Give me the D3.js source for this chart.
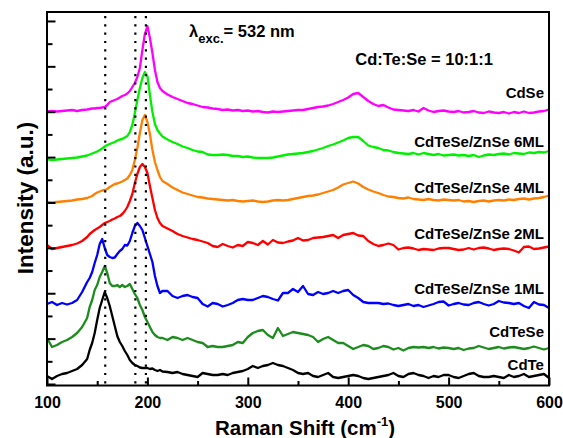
<!DOCTYPE html>
<html><head><meta charset="utf-8">
<script src="https://cdn.jsdelivr.net/npm/d3@7"></script>
<style>
body{margin:0;background:#fff}
text{font-family:"Liberation Sans",Arial,sans-serif;font-weight:bold;fill:#000}
</style>
</head><body>
<svg id="c" width="563" height="438"></svg>
<script>
// ---------- data (Raman shift in cm^-1, intensity in a.u., curves offset) ----------
const shift = d3.merge([d3.range(100, 141, 5), d3.range(142.5, 215.1, 2.5), d3.range(220, 601, 5)]);

const cdse = [
272.5,273,272.5,273,273.5,274,273,274,274.5,
275,275.5,275.5,276,276,276.5,277,279,282,283,284,285,286.5,288,289,290.5,293,297,301,307,316,334,350,358,346,331,314,302,296,293,
289.5,287,285,283,281,280,278.5,277,276.5,275.5,
275,274,274.5,273.5,274,273,273.5,272.5,273,272,
271.5,272.5,272,272.5,273,273.5,274,274,275,276,
277,277.5,278.5,280,282,284,286.5,290,291,287,
283,280,278,279,276.5,274.5,274,273.5,273,274,
272.5,276,273.5,272,273,273.5,272.5,272,273,271.5,
272,273,271.5,271,272.5,271.5,271,272,270.5,272,
271,272.5,271,271.5,272.5,273,274.5];

const zn6 = [
225,224,224.5,225,225.5,226,226.5,227.5,228.5,
229.5,230.5,231.5,232.5,234,235.5,237.5,239,240,241,242,243.5,244.5,245,246.5,248,252,259,271,284,296,306,312,308,289,272,260,254,250.5,247.5,
244.5,242,240,237.5,236,234,232.5,232,229.5,229,
229,229.5,229,228,228,227,227.5,226.5,226,226,
226,226.5,227.5,228.5,229.5,230,230.5,231,232,233,
234.5,236,238,239.5,241.5,243.5,246,247,247,243,
238.5,237,236,234,233.5,232,231,230.5,230,231,
229.5,231,230,229,230,228.5,229,229.5,228.5,229,
228,229,227,228.5,229.5,229,230,230.5,229.5,231,
230.5,230,231.5,231,232,231.5,233];

const zn4 = [
182,181.5,182,182.5,183,183.5,184.5,185,186,
187,188,190,191.5,192.5,193.5,194,195,197,198.5,200,200.5,201.5,202.5,204,205.5,209,214,224,236,251,264,269,262,250,234,222,214,207,203,
200,196.5,194,191.5,190,188.5,187,186.5,185.5,185,
184.5,184,183.5,184,183,182.5,183,183.5,182.5,182,
182.5,183.5,184,183.5,184,185,186,187,188,188.5,
189.5,191,192.5,194,196.5,199.5,201,202.5,200.5,197,
194.5,192.5,191,189,187.5,187,186,185.5,186.5,185,
184.5,184,185,184,183.5,184.5,184,183.5,184,182.5,
183,182,183,183.5,182.5,183.5,184,183.5,184.5,184,
185,185.5,184.5,185.5,186,187,188.5];

const zn2 = [
139,135,136,137,138,139,140.5,143,147,
150,152,154,155.5,157,159,161,162,163,164.5,165.5,167,168,170,173,177,183,190,201,210,217,220,217,211,198,186,174,166,161,158,
155.5,153,150,148,146.5,145,144,142.5,141,138,
137,140,138,136.5,139,138,142,141,139,143,
139.5,144,141.5,141,142.5,143.5,146,143.5,144,146,
146.5,147,148,149,146,149,150,151,148.5,148,
143,140,138,139,140.5,139,134.5,136,136.5,135.5,
134,135,134.5,134,135.5,136,136,135,134,134.5,
136,134.5,136,136.5,135.5,134,135,135.5,135,133.5,
131.5,137,137.5,135,135.5,136.5,137.5];

const zn1 = [
80,82,79,81,79.5,81,84,92,102,
106,112,121,129,140,145,136,129,127,126,126.5,130,133,135,139,138.5,143,151,158,161,158,154,146,138,130,122,108,98,91,93,
93,88,86,88,89,87,86,80,77.5,81,
80,77.5,79,81,84,85,84,84,86,88,
87,85,83.5,91,91,95,92,98,90,89,
92,90,91,93,91,93,94,89,86,82,
81,81,81,80,80.5,79,78,79,80,78,
79,77,78.5,80,82,82.5,78.5,80,81,79.5,
79,81,82,80,78.5,80,83,81.5,81,80,
81,78,76,82,79.5,79,76];

const cdtese = [
46,37,39,42,44,47,51,57,66,
77,84,94,99,107,112,118,111,101,98,98,99,97,99,97,98,100,95,90,86,79,74,67,62,57,52,49,47,46,46,
44,47,46,44,46,44,42,41,37,38,
37,37,38,39,42,41,47,51,53,54,
49,46,56,48,50,52,51,50,49,47,
42,45,47,44,41,41,38,35,37,39,
38,35,36,38,37,34.5,36,33.5,36,37,
36.5,37,36,37,35.5,36.5,36,35,36,34,
35.5,36,38,36.5,35,36,37,35.5,36.5,37,
36,35,36,37.5,36,34.5,36];

const cdte = [
8,5,8,10,11,13,15,19,25,
34,41,51,64,76,84,92,86,78,68,58,48,42,38,33,29,24,21,19,18,16.5,16,16,16,15,15.5,14,13,14,12.5,
12,11,12,10,9,8,7,11,10,9,
9,10,9,11,12,13,15,18,16,18,
19,21,19,18,16,14,11,10,11,8,
7,9,11,7,6,7,8,9,8,6,
5,6,7,8,9,11,8,7,10,11,
9,8,6,8,7,9,9,7,6,8,
10,11,8,7,7,8,7,6,9,7,
8,10,7,8,9,10,6];

const seriesNames = ["CdTe", "CdTeSe", "CdTeSe/ZnSe 1ML", "CdTeSe/ZnSe 2ML", "CdTeSe/ZnSe 4ML", "CdTeSe/ZnSe 6ML", "CdSe"];
const seriesValues = [cdte, cdtese, zn1, zn2, zn4, zn6, cdse];
const xTicks = [100, 200, 300, 400, 500, 600];
const xMinorTicks = [150, 250, 350, 450, 550];
const refLines = [158, 188, 198.5];

// ---------- styling / layout ----------
const colors = ["#000000", "#1c8c1c", "#0000ff", "#ff0000", "#ff8000", "#00f000", "#ff00ff"];
const labelY = [14, 47, 90, 145, 191, 237, 286];   // label baselines (a.u.)
const labelX = 595;

const svg = d3.select("#c");
const x = d3.scaleLinear().domain([100, 600]).range([47, 549]);
const y = d3.scaleLinear().domain([0, 372]).range([384, 12]);
const bottom = 385.5;
const yStep = 22.69;
const yTicks = d3.range(17).map(k => k * yStep);

// curves
const line = d3.line().x((d, i) => x(shift[i])).y(d => y(d));
svg.append("g").selectAll("path").data(seriesValues).join("path")
  .attr("d", line).attr("fill", "none")
  .attr("stroke", (d, i) => colors[i]).attr("stroke-width", 2.3)
  .attr("stroke-linejoin", "round");

// dotted reference lines
svg.append("g").selectAll("line").data(refLines).join("line")
  .attr("x1", d => x(d)).attr("x2", d => x(d))
  .attr("y1", y(372) + 4).attr("y2", bottom - 2)
  .attr("stroke", "#000").attr("stroke-width", 2.2)
  .attr("stroke-dasharray", "2.2,6.1");

// frame
svg.append("rect").attr("x", x(100)).attr("y", y(372))
  .attr("width", x(600) - x(100)).attr("height", bottom - y(372))
  .attr("fill", "none").attr("stroke", "#000").attr("stroke-width", 2);

// x axis
const gx = svg.append("g").attr("transform", `translate(0,${bottom})`);
gx.call(d3.axisBottom(x).tickValues(xTicks).tickSize(-8).tickPadding(11).tickFormat(d3.format("d")));
gx.append("g").call(d3.axisBottom(x).tickValues(xMinorTicks).tickSize(-4.5).tickFormat(""));
gx.selectAll(".domain").remove();
gx.selectAll("line").attr("stroke", "#000").attr("stroke-width", 2);
gx.selectAll("text").attr("font-size", 16).attr("font-family", '"Liberation Sans",Arial,sans-serif').attr("font-weight", "bold").attr("fill", "#000");

// y axis (no labels)
const gy = svg.append("g").attr("transform", `translate(${x(100)},0)`);
gy.call(d3.axisLeft(y).tickValues(yTicks).tickSize(0).tickFormat(""));
gy.selectAll(".domain").remove();
gy.selectAll(".tick line").attr("x2", (d, i) => i % 2 === 0 ? 8.5 : 5.5)
  .attr("stroke", "#000").attr("stroke-width", 2);

// axis titles
const xt = svg.append("text").attr("x", 305).attr("y", 435).attr("text-anchor", "middle").attr("font-size", 20.5);
xt.append("tspan").text("Raman Shift (cm");
xt.append("tspan").attr("font-size", 13).attr("dy", -9).text("-1");
xt.append("tspan").attr("dy", 9).text(")");

svg.append("text").attr("transform", "translate(33,198) rotate(-90)")
  .attr("text-anchor", "middle").attr("font-size", 22.5).text("Intensity (a.u.)");

// annotations
const lam = svg.append("text").attr("x", x(241.5)).attr("y", y(347)).attr("font-size", 16.5);
lam.append("tspan").text("λ");
lam.append("tspan").attr("font-size", 13).attr("dy", 6).text("exc.");
lam.append("tspan").attr("dy", -6).text("= 532 nm");

svg.append("text").attr("x", x(407)).attr("y", y(319)).attr("font-size", 16.5).text("Cd:Te:Se = 10:1:1");

// series labels
svg.append("g").selectAll("text").data(seriesNames).join("text")
  .attr("x", x(labelX)).attr("y", (d, i) => y(labelY[i]))
  .attr("text-anchor", "end").attr("font-size", 15).text(d => d);
</script>
</body></html>
